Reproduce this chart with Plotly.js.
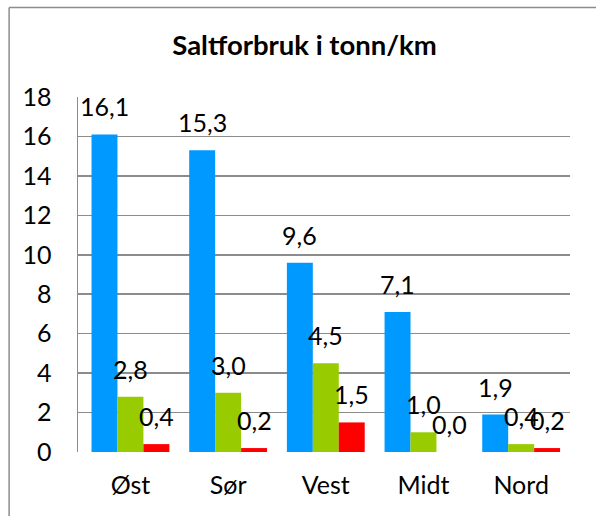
<!DOCTYPE html>
<html>
<head>
<meta charset="utf-8">
<script src="https://cdn.plot.ly/plotly-3.0.1.min.js"></script>
<style>
html,body{margin:0;padding:0;background:#fff;}
#chart{width:596px;height:516px;}
</style>
</head>
<body>
<div id="chart"></div>
<script>
var categories = ["Øst", "Sør", "Vest", "Midt", "Nord"];
var seriesNames = ["Serie 1", "Serie 2", "Serie 3"];
var blueValues = [16.1, 15.3, 9.6, 7.1, 1.9];
var greenValues = [2.8, 3.0, 4.5, 1.0, 0.4];
var redValues = [0.4, 0.2, 1.5, 0.0, 0.2];
var yTicks = [0, 2, 4, 6, 8, 10, 12, 14, 16, 18];
var titleText = "Saltforbruk i tonn/km";

var colors = ["#0099FF", "#99CC00", "#FF0000"];
var allSeries = [blueValues, greenValues, redValues];
var FONT = "Lato, 'Open Sans', sans-serif";
var bargap = 0.203;

var traces = allSeries.map(function (vals, i) {
  return {
    type: "bar",
    name: seriesNames[i],
    x: categories,
    y: vals,
    marker: { color: colors[i] },
    hoverinfo: "x+y"
  };
});

var barW = (1 - bargap) / allSeries.length;
var annotations = [];
allSeries.forEach(function (vals, i) {
  var off = (i - (allSeries.length - 1) / 2) * barW;
  vals.forEach(function (v, j) {
    annotations.push({
      x: j + off, y: v, xref: "x", yref: "y",
      text: v.toFixed(1).replace(".", ","),
      showarrow: false, yanchor: "bottom", xanchor: "center",
      yshift: 11,
      font: { family: FONT, size: 25, color: "#000" }
    });
  });
});

var layout = {
  width: 596, height: 516,
  margin: { l: 78, r: 26, t: 97, b: 64 },
  paper_bgcolor: "#fff", plot_bgcolor: "#fff",
  barmode: "group", bargap: bargap, bargroupgap: 0,
  showlegend: false,
  title: {
    text: "<b>" + titleText + "</b>",
    font: { family: FONT, size: 27.5, color: "#000" },
    x: 0.511, xanchor: "center", y: 0.912, yanchor: "middle"
  },
  xaxis: {
    type: "category",
    showgrid: false, zeroline: false, showline: false,
    ticks: "", ticklabelstandoff: 16,
    tickfont: { family: FONT, size: 25, color: "#000" }
  },
  yaxis: {
    range: [0, 18], tickvals: yTicks, ticktext: yTicks.map(String),
    showgrid: true, gridcolor: "#8c8c8c", gridwidth: 1.5,
    zeroline: false, showline: true, linecolor: "#8c8c8c", linewidth: 1.5,
    ticks: "", ticklabelstandoff: 20,
    tickfont: { family: FONT, size: 25, color: "#000" }
  },
  annotations: annotations,
  shapes: [
    { type: "line", xref: "paper", yref: "paper", x0: -0.14, x1: 1.1, y0: 1.252, y1: 1.252,
      line: { color: "#8c8c8c", width: 1.5 } },
    { type: "line", xref: "paper", yref: "paper", x0: -0.14, x1: -0.14, y0: 1.252, y1: -0.3,
      line: { color: "#8c8c8c", width: 1.5 } }
  ]
};

Plotly.newPlot("chart", traces, layout, { displayModeBar: false, staticPlot: true });
</script>
</body>
</html>
